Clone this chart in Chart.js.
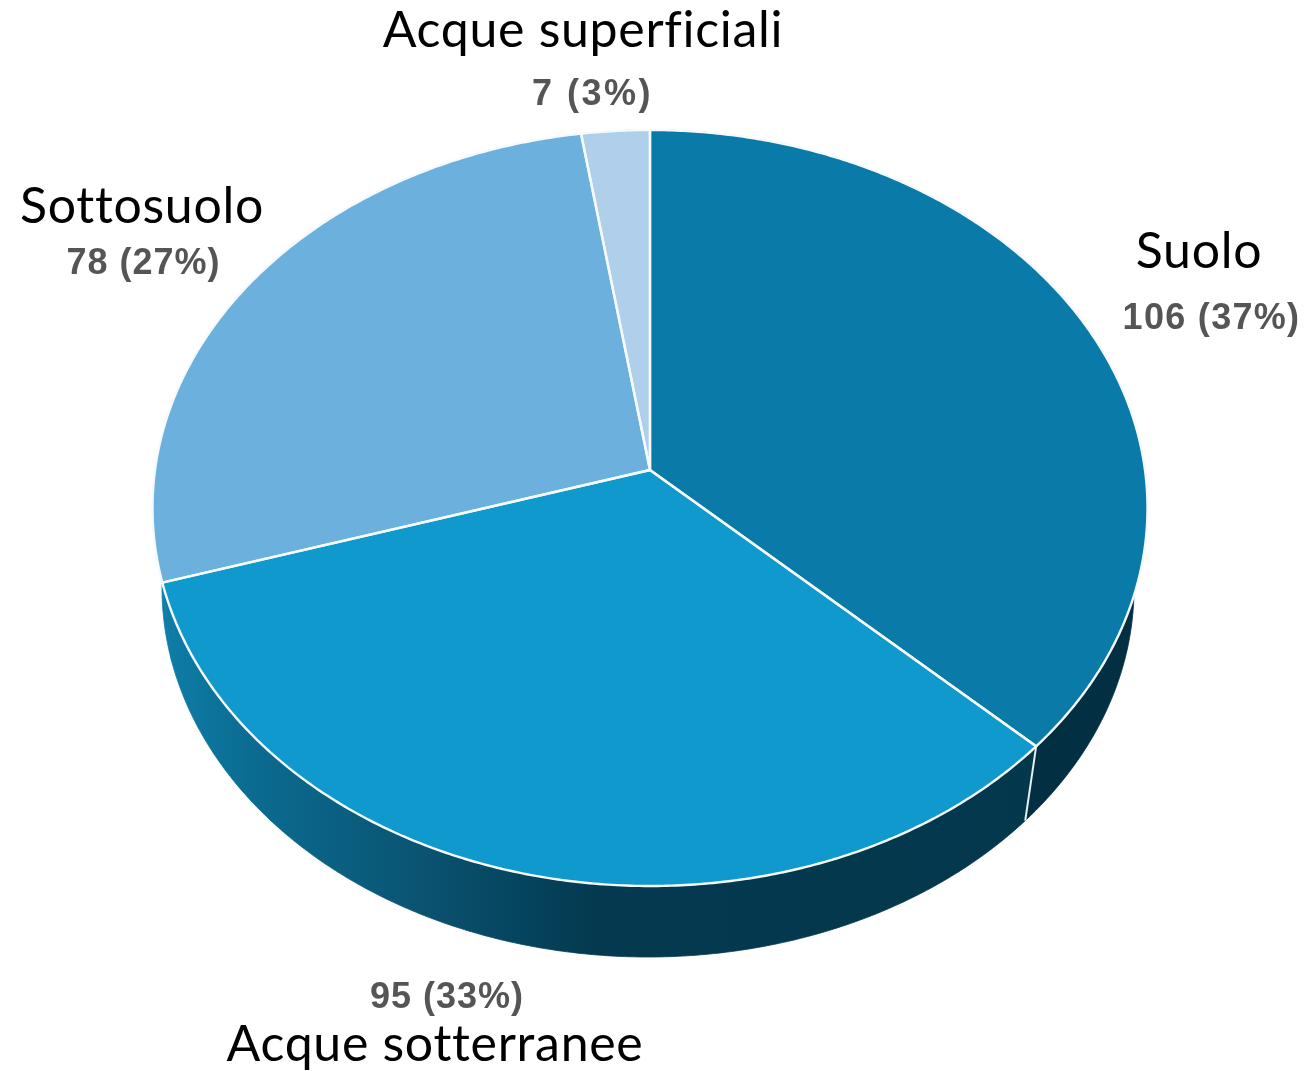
<!DOCTYPE html>
<html><head><meta charset="utf-8">
<style>html,body{margin:0;padding:0;background:#fff}canvas{display:block}</style>
<script src="https://cdn.jsdelivr.net/npm/chart.js@4"></script>
</head><body>
<canvas id="c" width="1315" height="1071"></canvas>
<script>
const categories = ['Suolo','Acque sotterranee','Sottosuolo','Acque superficiali'];
const values = [106,95,78,7];
const percents = [37,33,27,3];
const faceColors = ['#0a7aa8','#1099cc','#6cb1de','#b0cfeb'];
const rimStops = [[0,'#0e80ab'],[0.1,'#0b6c91'],[0.28,'#0a5270'],[0.38,'#05435c'],[0.45,'#04394f'],[1,'#03374c']];
const suoloRim = '#022f42';
// label placement: [name centre x, name baseline, value centre x, value baseline]
const labelPlaces = [[1199,268,1211.5,329],[435,1061,447,1008],[142,223,143.5,274],[583,47,592.5,105]];
const valueSpacing = ['1.3px','1px','1px','2.5px'];

// perspective look of the disc
const SQUASH_X = 497.5/378, APEX_K = -0.1005;
const LOWER = {dx:-2, dy:80, sx:486/378, sy:369/378};

function project(el, theta, lower){
  const s=Math.sin(theta), c=-Math.cos(theta);
  const w=1+APEX_K*c;
  const u=s*Math.sqrt(1-APEX_K*APEX_K)/w, v=(c+APEX_K)/w;
  const r=el.outerRadius;
  if(lower) return [el.x+LOWER.dx+u*r*LOWER.sx, el.y+LOWER.dy+v*r*LOWER.sy];
  return [el.x+u*r*SQUASH_X, el.y+v*r];
}
function edge(el,lower){
  const pts=[]; const a0=el.startAngle+Math.PI/2, a1=el.endAngle+Math.PI/2;
  const n=Math.max(8,Math.ceil((a1-a0)*120));
  for(let i=0;i<=n;i++) pts.push(project(el,a0+(a1-a0)*i/n,lower));
  return pts;
}
const pie3d = {
  id:'pie3d',
  beforeDatasetsDraw(chart){
    const ctx=chart.ctx, arcs=chart.getDatasetMeta(0).data;
    ctx.save();
    ctx.lineJoin='round';
    const g=ctx.createLinearGradient(150,0,1150,0);
    rimStops.forEach(s=>g.addColorStop(s[0],s[1]));
    // side wall
    [3,2,1,0].forEach(i=>{
      const el=arcs[i], top=edge(el,false), bot=edge(el,true).reverse();
      ctx.beginPath();
      top.concat(bot).forEach((p,j)=>j?ctx.lineTo(p[0],p[1]):ctx.moveTo(p[0],p[1]));
      ctx.closePath();
      ctx.fillStyle= i===0?suoloRim:g;
      ctx.strokeStyle= i===0?suoloRim:g;
      ctx.lineWidth=0.8;
      ctx.fill();
      ctx.stroke();
    });
    // wall seam at the first slice end
    const a=project(arcs[1],arcs[1].startAngle+Math.PI/2,false), b=project(arcs[1],arcs[1].startAngle+Math.PI/2,true);
    ctx.strokeStyle='#e8eef1'; ctx.lineWidth=2;
    ctx.beginPath(); ctx.moveTo(a[0],a[1]); ctx.lineTo(b[0],b[1]); ctx.stroke();
    // top faces
    arcs.forEach((el,i)=>{
      const pts=edge(el,false);
      ctx.beginPath();
      ctx.moveTo(el.x, el.y+APEX_K*el.outerRadius);
      pts.forEach(p=>ctx.lineTo(p[0],p[1]));
      ctx.closePath();
      ctx.fillStyle=faceColors[i];
      ctx.fill();
    });
    arcs.forEach((el,i)=>{
      const pts=edge(el,false);
      ctx.beginPath();
      ctx.moveTo(el.x, el.y+APEX_K*el.outerRadius);
      pts.forEach(p=>ctx.lineTo(p[0],p[1]));
      ctx.closePath();
      ctx.strokeStyle='#f6fafc'; ctx.lineWidth=2.4;
      ctx.stroke();
    });
    ctx.restore();
    return false;
  },
  afterDraw(chart){
    const ctx=chart.ctx;
    ctx.save();
    ctx.textAlign='center'; ctx.textBaseline='alphabetic';
    categories.forEach((name,i)=>{
      const p=labelPlaces[i];
      ctx.filter='none';
      ctx.font='400 50px Lato';
      ctx.fillStyle='#000';
      ctx.letterSpacing='0.7px';
      ctx.fillText(name,p[0],p[1]);
      ctx.filter='blur(0.5px)';
      ctx.font='700 36px "Liberation Sans"';
      ctx.fillStyle='#555';
      ctx.letterSpacing=valueSpacing[i];
      ctx.fillText(values[i]+' ('+percents[i]+'%)',p[2],p[3]);
    });
    ctx.restore();
  }
};
new Chart(document.getElementById('c'),{
  type:'pie',
  data:{labels:categories,datasets:[{data:values,backgroundColor:faceColors,borderWidth:0}]},
  options:{
    responsive:false,animation:false,
    layout:{padding:{top:130,bottom:185,left:0,right:15}},
    plugins:{legend:{display:false},tooltip:{enabled:false}}
  },
  plugins:[pie3d]
});
</script>
</body></html>
